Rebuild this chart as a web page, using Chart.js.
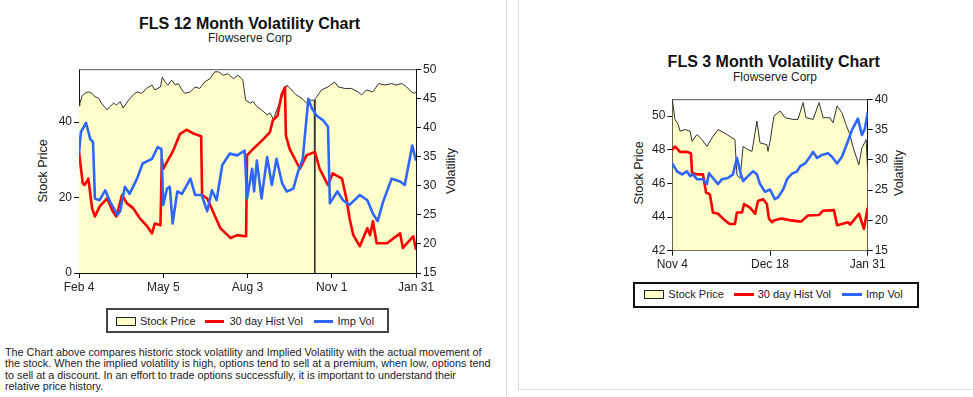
<!DOCTYPE html>
<html><head><meta charset="utf-8">
<script src="https://cdn.jsdelivr.net/npm/chart.js@4.4.0/dist/chart.umd.min.js"></script>
<style>
html,body{margin:0;padding:0;background:#fff}
body{width:973px;height:397px;overflow:hidden;position:relative;font-family:"Liberation Sans",Arial,sans-serif;color:#111}
.abs{position:absolute;white-space:nowrap}
.title{font-weight:bold;font-size:16px;line-height:16px;text-align:center;width:400px;color:#111}
.sub{font-size:12px;line-height:12px;text-align:center;width:400px;color:#222}
.axt{font-size:12.5px;line-height:13px;transform:translate(-50%,-50%) rotate(-90deg);color:#222}
.legbox{box-sizing:border-box}
.lt{font-size:11px;line-height:11px;color:#222}
.sw{box-sizing:border-box;background:#FFFFCC;border:1px solid #222}
canvas{position:absolute}
</style></head>
<body>
<div class="abs" style="left:506px;top:0;width:1px;height:397px;background:#ddd"></div>
<div class="abs" style="left:518px;top:-2px;width:460px;height:392px;border-left:1px solid #ddd;border-bottom:1px solid #ddd;box-sizing:border-box"></div>

<div class="abs title" id="t12" style="left:49.5px;top:15.8px"></div>
<div class="abs sub" id="s12" style="left:50px;top:31.5px"></div>
<div class="abs title" id="t3" style="left:573.7px;top:53.8px"></div>
<div class="abs sub" id="s3" style="left:575px;top:70.8px"></div>

<div class="abs axt" id="ay12l" style="left:42.5px;top:171px"></div>
<div class="abs axt" id="ay12r" style="left:450.5px;top:171px"></div>
<div class="abs axt" id="ay3l" style="left:639px;top:173px"></div>
<div class="abs axt" id="ay3r" style="left:899px;top:173px"></div>

<canvas id="c12" width="470" height="240" style="left:0;top:60px;width:470px;height:240px"></canvas>
<canvas id="c3" width="290" height="190" style="left:620px;top:90px;width:290px;height:190px"></canvas>

<!-- legends -->
<div class="abs legbox" style="left:106px;top:308px;width:283px;height:25px;border:2px solid #444"></div>
<div class="abs sw" style="left:116px;top:316.5px;width:20px;height:9px"></div>
<div class="abs lt leg0" style="left:140px;top:315.5px"></div>
<div class="abs" style="left:205px;top:319.5px;width:19px;height:3px;background:#FF0000"></div>
<div class="abs lt leg1" style="left:229.5px;top:315.5px"></div>
<div class="abs" style="left:313.5px;top:319.5px;width:19px;height:3px;background:#2E66FF"></div>
<div class="abs lt leg2" style="left:337.5px;top:315.5px"></div>

<div class="abs legbox" style="left:633px;top:281.5px;width:286px;height:26px;border:2px solid #111"></div>
<div class="abs sw" style="left:644.3px;top:290px;width:20px;height:8.5px"></div>
<div class="abs lt leg0" style="left:668.3px;top:288.7px"></div>
<div class="abs" style="left:734px;top:292.8px;width:20.3px;height:3px;background:#FF0000"></div>
<div class="abs lt leg1" style="left:757.7px;top:288.7px"></div>
<div class="abs" style="left:841.7px;top:292.8px;width:20px;height:3px;background:#2E66FF"></div>
<div class="abs lt leg2" style="left:866px;top:288.7px"></div>

<div class="abs" id="desc" style="left:5px;top:347px;color:#222"></div>

<script>
// ---------- texts ----------
const title12 = "FLS 12 Month Volatility Chart";
const title3 = "FLS 3 Month Volatility Chart";
const subtitle = "Flowserve Corp";
const yTitleLeft = "Stock Price";
const yTitleRight = "Volatility";
const seriesNames = ["Stock Price", "30 day Hist Vol", "Imp Vol"];
const descLines = [
  "The Chart above compares historic stock volatility and Implied Volatility with the actual movement of",
  "the stock. When the implied volatility is high, options tend to sell at a premium, when low, options tend",
  "to sell at a discount. In an effort to trade options successfully, it is important to understand their",
  "relative price history."
];

// ---------- 12 month chart data (x = days since Feb 4) ----------
const xTickDays12 = [0, 90, 180, 270, 360];
const xLabels12 = ["Feb 4", "May 5", "Aug 3", "Nov 1", "Jan 31"];
const priceTicks12 = [0, 20, 40];
const volTicks12 = [15, 20, 25, 30, 35, 40, 45, 50];

const priceDays12 = [0,1,3,6,10,14,17,21,24,30,33,37,40,44,47,53,58,62,67,72,78,81,87,89,92,95,99,103,106,110,113,119,124,129,134,140,145,149,154,159,165,170,175,178,183,186,190,195,201,204,208,210,217,222,227,232,238,243,247,251.3,251.8,252.3,254,259,266,273,277,284,291,298,302,307,314,320,327,334,339,345,350,355,358,360];
const priceVals12 = [44.3,45.0,46.7,47.6,48.0,47.6,46.7,46.3,45.0,43.2,44.1,45.0,44.5,45.4,43.7,45.8,47.2,48.0,47.6,48.9,49.8,48.5,49.3,51.9,50.6,49.8,51.1,49.8,50.2,48.5,47.6,48.0,49.3,48.9,50.6,51.5,53.3,53.3,52.4,52.8,51.5,52.4,51.1,45.8,45.0,45.4,44.1,43.2,41.9,42.4,40.6,42.4,46.7,49.8,48.5,47.2,46.3,45.0,45.8,45.8,0,46.2,46.7,48.5,49.3,50.6,49.3,48.9,48.9,48.0,47.2,48.5,48.0,50.2,49.8,50.2,49.8,50.2,49.3,48.0,47.6,48.0];

const histDays12 = [0,4,6,10,14,17,22,30,36,40,46,51,58,65,73,78,81,87,88.5,90,94,100,108,115,123,130.5,131.5,137,143,151,162,169,177,178.5,179.5,186,197,204,207,212,216.5,220,221,225,236,243,252,257,266,271,281,286,289,293,300,308,311,314,318,329,343,346,357,360];
const histVals12 = [35.8,30.4,30.1,31.2,26.1,24.7,26.4,27.8,25.6,24.7,28.4,27,26.1,24.4,23,21.8,23.5,23.2,34.6,32.9,34.1,35.8,38.9,39.6,38.9,38.5,28.4,27.8,25.6,22.7,21,21.5,21.3,21.3,35.2,36.3,38,39.2,41.2,42,45.7,46.9,38.6,36.3,32.9,35.2,35.8,32.9,30.1,32.1,31.2,27.5,24.4,21.5,19.6,22.7,21.5,23.9,20.1,20.1,21.8,19.3,21.3,19];

const impDays12 = [0,2,7.5,12,15,17,22,28,33,41,44,49,54,62,68,78,84,88,90,94,97,100,105,110,119,124,131,137,142,147,153,161,169,177,179.5,185,187,190,195,201,206,211,217,222,229,234,239,245,249,254,261,266,268,276,282,289,300,308,314,319,325,334,343,348,356,360];
const impVals12 = [35.5,39.2,40.8,38,37.5,27.8,27.5,29.2,27.3,25,25.6,29.8,28.6,31.2,33.8,34.6,36.6,36.3,26.7,29.5,29.8,23.5,29,28.6,31.2,28.4,28.4,25.6,29.2,27.5,33.5,35.5,35.2,36,27.8,32.9,29,34.3,27.8,34.9,30.1,34.6,30.4,29,29.5,32.4,34.6,44.9,43.2,42,41.2,40.1,27,29,27.5,26.7,28.4,27.5,25.2,23.9,27.3,31.2,30.7,30.1,36.9,34.3];

// ---------- 3 month chart data (x = days since Nov 4) ----------
const xTickDays3 = [0, 44, 88];
const xLabels3 = ["Nov 4", "Dec 18", "Jan 31"];
const priceTicks3 = [42, 44, 46, 48, 50];
const volTicks3 = [15, 20, 25, 30, 35, 40];

const priceDays3 = [0,1.2,2.6,3.5,5.7,8,8.9,11.1,13.4,15.6,17.9,20.6,24.6,28.2,29.1,30.5,31.9,34.1,35.9,38.1,39.5,42.6,43.1,44,45.8,48.5,50.8,54.4,56.6,58.9,60.2,63.4,66.1,67.9,71,72.4,74.2,76.4,78.2,80,81.3,84,85.4,87.3,88];
const priceVals3 = [51,49.8,49.5,49.1,49.2,49.1,48.5,48.9,48.6,48.2,48.7,49.2,48.9,48.6,46.5,46.3,48.2,48,47.9,49.7,48.4,48.3,47.9,48.5,50,50.3,49.9,49.8,49.8,50.8,49.9,49.8,50.8,49.9,49.9,49.6,50.6,50.2,49.5,48.9,48.2,47.1,48.1,48.6,46.7];

const histDays3 = [0,1.2,3.5,6.6,8.4,8.9,11.1,13.8,15.2,16.9,18.3,20.6,23.7,25.9,28.2,29.1,31.4,32.3,35,37.3,38.6,40.9,42.6,43.5,44.9,45.8,49,53.5,58,61.1,66.1,67.9,72.8,74.2,79.2,80.1,84.1,86.3,88];
const histVals3 = [31.6,32.2,31.3,31.3,31.1,27.8,27.6,27.6,24.6,24.3,21.3,21.1,20,19.4,19.4,21.3,21.3,22.7,22.1,21.1,23.2,23.5,22.7,20.3,19.7,20,20.3,20,19.8,20.8,20.9,21.6,21.7,19.2,19.7,19.3,21.1,18.6,22.1];

const impDays3 = [0,2.1,4.4,6.6,8,9.3,11.1,13.8,15.6,16.5,18.3,20.6,22.4,25,27.3,29.1,30.9,31.9,34.1,36.4,38.1,39.5,41.8,44,46.2,47.6,49.9,51.7,53.9,56.2,57.5,59.8,62,63.4,65.2,67.4,70.1,71.9,74.2,76.4,78.7,80.9,83.6,85.4,86.7,88];
const impVals3 = [29.4,28.1,27.6,28.1,27.3,27.6,26.8,26.8,26,27.8,27,26,26.8,27,27.6,30.3,27.6,26.5,27.3,28.1,27.6,26,24.7,25.1,23.5,23.8,25.1,26.8,27.7,28.1,28.9,29.4,30.5,31.3,30.3,30.8,31.1,30.5,29.4,30.5,32.7,34.9,36.8,34.1,35.1,37.8];

// ---------- text placement ----------
document.getElementById('t12').textContent = title12;
document.getElementById('t3').textContent = title3;
document.getElementById('s12').textContent = subtitle;
document.getElementById('s3').textContent = subtitle;
['ay12l','ay3l'].forEach(id => document.getElementById(id).textContent = yTitleLeft);
['ay12r','ay3r'].forEach(id => document.getElementById(id).textContent = yTitleRight);
document.querySelectorAll('.leg0').forEach(e => e.textContent = seriesNames[0]);
document.querySelectorAll('.leg1').forEach(e => e.textContent = seriesNames[1]);
document.querySelectorAll('.leg2').forEach(e => e.textContent = seriesNames[2]);
(function(){
  const mc = document.createElement('canvas').getContext('2d');
  mc.font = '100px "Liberation Sans"';
  const fs = Math.min(12, 100 * 477 / mc.measureText(descLines[0]).width);
  const d = document.getElementById('desc');
  d.style.fontSize = fs.toFixed(2) + 'px';
  d.style.lineHeight = '11.4px';
  d.innerHTML = '';
  descLines.forEach(l => { const s = document.createElement('div'); s.textContent = l; d.appendChild(s); });
})();

// ---------- charts ----------
const pts = (xs, ys) => xs.map((x, i) => ({x: x, y: ys[i]}));
const framePlugin = {
  id: 'frame',
  afterDatasetsDraw(chart) {
    const a = chart.chartArea, c = chart.ctx;
    c.save();
    c.strokeStyle = '#555'; c.lineWidth = 1;
    c.beginPath(); c.moveTo(a.left, a.top + 0.5); c.lineTo(a.right, a.top + 0.5); c.stroke();
    c.restore();
  }
};

function makeChart(id, cfg) {
  const tickFont = {family: '"Liberation Sans", Arial, sans-serif', size: 12};
  const setTicks = arr => (s => { s.ticks = arr.map(v => ({value: v})); });
  new Chart(document.getElementById(id), {
    type: 'line',
    data: {datasets: [
      {label: seriesNames[0], data: pts(cfg.pDays, cfg.pVals), yAxisID: 'yP', borderColor: '#333', borderWidth: 1,
       backgroundColor: '#FFFFCC', fill: 'start', pointRadius: 0, tension: 0, order: 3},
      {label: seriesNames[1], data: pts(cfg.hDays, cfg.hVals), yAxisID: 'yV', borderColor: '#FF0000', borderWidth: 2.6,
       fill: false, pointRadius: 0, tension: 0, order: 2, borderJoinStyle: 'round'},
      {label: seriesNames[2], data: pts(cfg.iDays, cfg.iVals), yAxisID: 'yV', borderColor: '#2E66FF', borderWidth: 2.6,
       fill: false, pointRadius: 0, tension: 0, order: 1, borderJoinStyle: 'round'}
    ]},
    options: {
      responsive: false, animation: false, maintainAspectRatio: false,
      layout: {padding: {top: cfg.T, left: 0, right: 0, bottom: 0}},
      plugins: {legend: {display: false}, tooltip: {enabled: false}},
      scales: {
        x: {type: 'linear', min: 0, max: cfg.xMax, afterBuildTicks: setTicks(cfg.xTicks),
            ticks: {callback: v => cfg.xLabels[cfg.xTicks.indexOf(v)], autoSkip: false, maxRotation: 0, padding: 2, color: '#222', font: tickFont},
            grid: {drawOnChartArea: false, tickLength: 5, color: '#111'}, border: {color: '#111'},
            afterFit: s => { s.height = cfg.B; }},
        yP: {type: 'linear', position: 'left', min: cfg.pMin, max: cfg.pMax, afterBuildTicks: setTicks(cfg.pTicks),
             ticks: {padding: 2, color: '#222', font: tickFont},
             grid: {drawOnChartArea: false, tickLength: 5, color: '#111'}, border: {color: '#111'},
             afterFit: s => { s.width = cfg.L; }},
        yV: {type: 'linear', position: 'right', min: cfg.vMin, max: cfg.vMax, afterBuildTicks: setTicks(cfg.vTicks),
             ticks: {padding: 2, color: '#222', font: tickFont},
             grid: {drawOnChartArea: false, tickLength: 5, color: '#111'}, border: {color: '#111'},
             afterFit: s => { s.width = cfg.R; }}
      }
    },
    plugins: [framePlugin]
  });
}

makeChart('c12', {
  pDays: priceDays12, pVals: priceVals12, hDays: histDays12, hVals: histVals12, iDays: impDays12, iVals: impVals12,
  xMax: 360, xTicks: xTickDays12, xLabels: xLabels12,
  pMin: 0, pMax: 54, pTicks: priceTicks12, vMin: 15, vMax: 50, vTicks: volTicks12,
  L: 79, R: 54, T: 9, B: 27
});
makeChart('c3', {
  pDays: priceDays3, pVals: priceVals3, hDays: histDays3, hVals: histVals3, iDays: impDays3, iVals: impVals3,
  xMax: 88, xTicks: xTickDays3, xLabels: xLabels3,
  pMin: 42, pMax: 51, pTicks: priceTicks3, vMin: 15, vMax: 40, vTicks: volTicks3,
  L: 52.3, R: 42.3, T: 6.7, B: 29.3
});
</script>
</body></html>
